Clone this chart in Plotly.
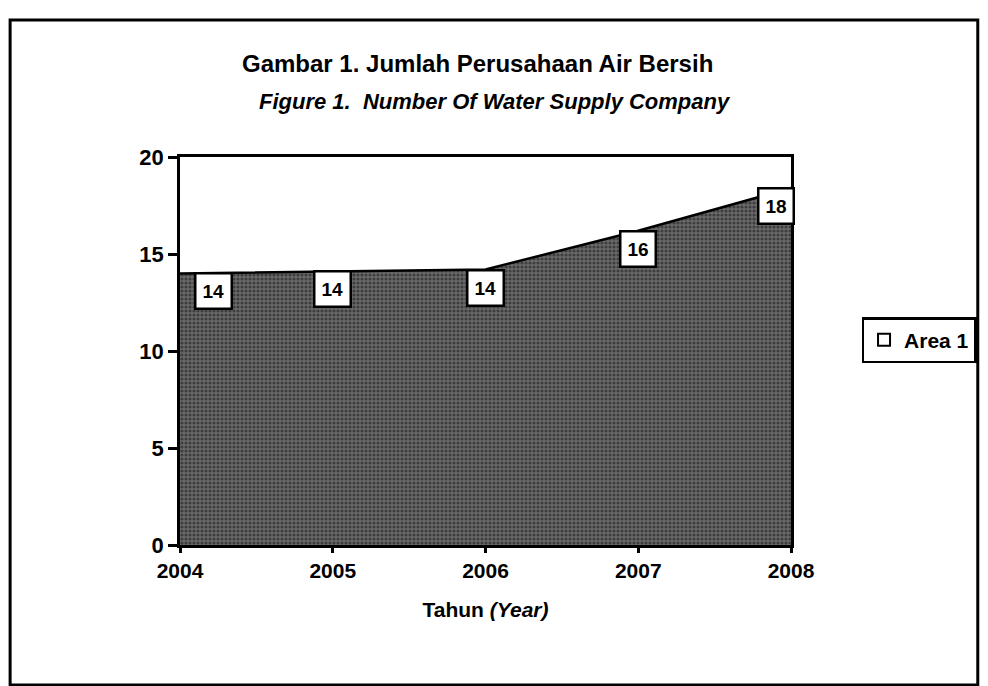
import plotly.graph_objects as go

years = [2004, 2005, 2006, 2007, 2008]
values = [14.0, 14.1, 14.2, 16.2, 18.4]
y_ticks = [0, 5, 10, 15, 20]
series_name = "Area 1"

title_line1 = "Gambar 1. Jumlah Perusahaan Air Bersih"
title_line2 = "Figure 1.  Number Of Water Supply Company"
x_title = "Tahun <i>(Year)</i>"

FONT = "Liberation Sans, Arial, sans-serif"

# screen-pixel helpers (plot area: x 180..795, y 157..545)
def px(x):
    return (x - 180) / 615

def py(y):
    return (545 - y) / 388

fig = go.Figure()

fig.add_trace(go.Scatter(
    x=years, y=values, mode="lines", fill="tozeroy",
    line=dict(color="black", width=2.5),
    fillcolor="#505050",
    fillpattern=dict(shape=".", bgcolor="#6a6a6a", fgcolor="#111111",
                     size=4, solidity=0.5),
    showlegend=False, hoverinfo="x+y",
))

# legend entry (empty white square)
fig.add_trace(go.Bar(
    x=[None], y=[None], name=f"<b>{series_name}</b>",
    marker=dict(color="white", line=dict(color="black", width=2)),
    showlegend=True,
))

# data labels
n = len(years)
for i, (x, v) in enumerate(zip(years, values)):
    xs = 0
    if i == 0:
        xs = 33
    elif i == n - 1:
        xs = -15
    fig.add_annotation(
        x=x, y=v, text=f"<b>{v:.0f}</b>", showarrow=False,
        xshift=xs, yshift=-18,
        font=dict(family=FONT, size=19, color="black"),
        bgcolor="white", bordercolor="black", borderwidth=2.5, borderpad=6,
    )

# titles
fig.add_annotation(xref="paper", yref="paper", x=px(479), y=py(48),
                   text=f"<b>{title_line1}</b>", showarrow=False,
                   font=dict(family=FONT, size=24, color="black"))
fig.add_annotation(xref="paper", yref="paper", x=px(497), y=py(87),
                   text=f"<b><i>{title_line2}</i></b>", showarrow=False,
                   font=dict(family=FONT, size=22, color="black"))

# outer frame
fig.add_shape(type="rect", xref="paper", yref="paper",
              x0=px(9), x1=px(983), y0=py(685), y1=py(20),
              line=dict(color="black", width=3), layer="below")

fig.update_layout(
    width=980, height=678,
    margin=dict(l=172, r=193, t=149, b=141),
    paper_bgcolor="white", plot_bgcolor="white",
    font=dict(family=FONT, color="black"),
    bargap=0,
    legend=dict(x=px(866), y=py(340), xanchor="left", yanchor="middle",
                bordercolor="black", borderwidth=2.5, bgcolor="white",
                font=dict(family=FONT, size=21, color="black"),
                itemwidth=30, tracegroupgap=0),
    xaxis=dict(
        range=[2004, 2008], tickmode="array", tickvals=years,
        ticktext=[f"<b>{y}</b>" for y in years],
        tickfont=dict(family=FONT, size=21, color="black"),
        showgrid=False, zeroline=False,
        showline=True, linecolor="black", linewidth=2.5, mirror=True,
        ticks="outside", ticklen=5, tickwidth=2.5, tickcolor="black",
        title=dict(text=f"<b>{x_title}</b>", font=dict(family=FONT, size=21, color="black"),
                   standoff=22),
    ),
    yaxis=dict(
        range=[0, 20], tickmode="array", tickvals=y_ticks,
        ticktext=[f"<b>{t}</b>" for t in y_ticks],
        tickfont=dict(family=FONT, size=22, color="black"),
        showgrid=False, zeroline=False,
        showline=True, linecolor="black", linewidth=2.5, mirror=True,
        ticks="outside", ticklen=9, tickwidth=2.5, tickcolor="black",
    ),
)

fig.write_html("out.html")
